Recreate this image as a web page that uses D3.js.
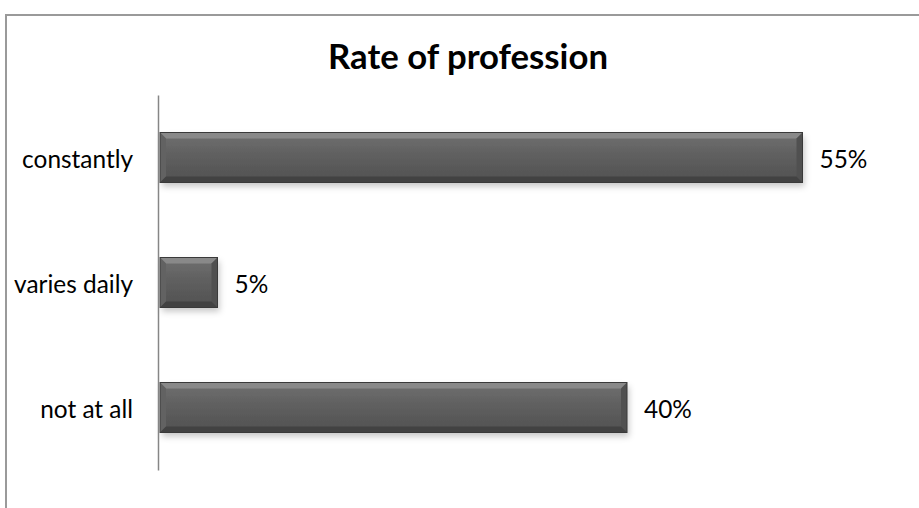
<!DOCTYPE html>
<html><head><meta charset="utf-8">
<script src="https://cdn.jsdelivr.net/npm/d3@7"></script>
<style>
html,body{margin:0;padding:0;background:#fff;}
svg{display:block;}
</style></head>
<body>
<svg id="chart" width="919" height="508"></svg>
<script>
const title = "Rate of profession";
const categories = ["constantly", "varies daily", "not at all"];
const values = [55, 5, 40];
const valueLabels = ["55%", "5%", "40%"];

const W = 919, H = 508;
const svg = d3.select("#chart");
const font = "Lato, 'Open Sans', 'Liberation Sans', sans-serif";

function fitSize(text, weight, targetWidth, base) {
  const t = svg.append("text").attr("font-family", font).attr("font-weight", weight)
    .attr("font-size", base).text(text);
  const w = t.node().getComputedTextLength();
  t.remove();
  return base * targetWidth / w;
}

// outer border
svg.append("rect").attr("x", 6).attr("y", 15).attr("width", W).attr("height", H)
  .attr("fill", "#fff").attr("stroke", "#9a9a9a").attr("stroke-width", 2);

const plot = {left: 159, right: 861, top: 95, bottom: 470};
const x = d3.scaleLinear().domain([0, 60]).range([plot.left, plot.right]);
const y = d3.scaleBand().domain(categories).range([plot.top, plot.bottom]).paddingInner(0.6).paddingOuter(0.3);

const defs = svg.append("defs");
const g = defs.append("linearGradient").attr("id", "barGrad").attr("x1", 0).attr("y1", 0).attr("x2", 0).attr("y2", 1);
g.append("stop").attr("offset", "0%").attr("stop-color", "#707070");
g.append("stop").attr("offset", "50%").attr("stop-color", "#5e5e5e");
g.append("stop").attr("offset", "100%").attr("stop-color", "#525252");
const f = defs.append("filter").attr("id", "shadow").attr("x", "-10%").attr("y", "-20%").attr("width", "130%").attr("height", "160%");
f.append("feDropShadow").attr("dx", 2).attr("dy", 4).attr("stdDeviation", 3).attr("flood-color", "#000").attr("flood-opacity", 0.22);

const titleSize = fitSize(title, "bold", 280, 28);
const labelSize = fitSize("varies daily", "normal", 119, 20);

// title
svg.append("text").attr("x", 468).attr("y", 69).attr("text-anchor", "middle")
  .attr("font-family", font).attr("font-weight", "bold").attr("font-size", titleSize)
  .attr("fill", "#000").text(title);

// bars
const bars = svg.append("g");
categories.forEach((c, i) => {
  const x0 = x(0) + 1, x1 = x(values[i]);
  const y0 = y(c), h = y.bandwidth(), y1 = y0 + h;
  const b = 6;
  const bg = bars.append("g");
  bg.append("rect").attr("x", x0).attr("y", y0).attr("width", x1 - x0).attr("height", h)
    .attr("fill", "url(#barGrad)").attr("filter", "url(#shadow)");
  const poly = (pts, fill) => bg.append("polygon").attr("points", pts.map(p => p.join(",")).join(" ")).attr("fill", fill);
  poly([[x0, y0], [x1, y0], [x1 - b, y0 + b], [x0 + b, y0 + b]], "#898989");
  poly([[x0, y0], [x0 + b, y0 + b], [x0 + b, y1 - b], [x0, y1]], "#626262");
  poly([[x1, y0], [x1, y1], [x1 - b, y1 - b], [x1 - b, y0 + b]], "#505050");
  poly([[x0, y1], [x0 + b, y1 - b], [x1 - b, y1 - b], [x1, y1]], "#424242");
  bg.append("rect").attr("x", x0).attr("y", y0).attr("width", x1 - x0).attr("height", h)
    .attr("fill", "none").attr("stroke", "#3a3a3a").attr("stroke-width", 1);
  svg.append("text").attr("x", x1 + 17).attr("y", y0 + h / 2).attr("dy", "0.42em")
    .attr("font-family", font).attr("font-size", labelSize).attr("fill", "#000").text(valueLabels[i]);
});

// axis
const ax = svg.append("g").attr("transform", `translate(${plot.left - 1},0)`)
  .call(d3.axisLeft(y).tickSize(0).tickPadding(25));
ax.select(".domain").attr("stroke", "#868686").attr("stroke-width", 1.5);
ax.selectAll("text").attr("font-family", font).attr("font-size", labelSize).attr("fill", "#000").attr("dy", "0.42em");
</script>
</body></html>
